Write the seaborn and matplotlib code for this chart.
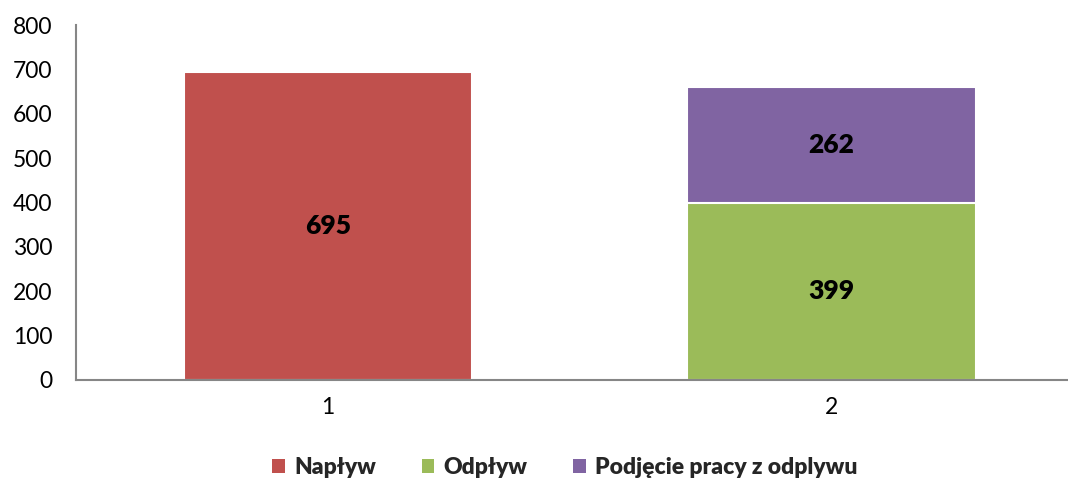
import pandas as pd
import matplotlib.pyplot as plt
import seaborn as sns
from matplotlib.patches import Patch

categories = ['1', '2']
naplyw = [695, 0]
odplyw = [0, 399]
podjecie = [0, 262]
series_names = ['Napływ', 'Odpływ', 'Podjęcie pracy z odplywu']
colors = ['#C0504D', '#9BBB59', '#8064A2']

sns.set_style('white')
plt.rcParams['font.family'] = ['Lato', 'DejaVu Sans']

fig = plt.figure(figsize=(10.68, 4.83), dpi=100)
ax = fig.add_axes([76 / 1068, 103 / 483, (1068 - 76) / 1068, 355 / 483])

df = pd.DataFrame({'cat': categories, 'naplyw': naplyw, 'odplyw': odplyw, 'podjecie': podjecie})
df['top'] = df['odplyw'] + df['podjecie']

bw = 0.573
kw = dict(order=categories, width=bw, edgecolor='white', linewidth=1.5, saturation=1, ax=ax)
# stacked: draw the cumulative total first, then the lower layer on top
sns.barplot(data=df[df['top'] > 0], x='cat', y='top', color=colors[2], **kw)
sns.barplot(data=df[df['odplyw'] > 0], x='cat', y='odplyw', color=colors[1], **kw)
sns.barplot(data=df[df['naplyw'] > 0], x='cat', y='naplyw', color=colors[0], **kw)

# value labels in the middle of each segment
lab = dict(ha='center', va='center', fontsize=19, fontweight='heavy', color='black')
for i, c in enumerate(categories):
    if naplyw[i]:
        ax.text(i, naplyw[i] / 2, str(naplyw[i]), **lab)
    if odplyw[i]:
        ax.text(i, odplyw[i] / 2, str(odplyw[i]), **lab)
    if podjecie[i]:
        ax.text(i, odplyw[i] + podjecie[i] / 2, str(podjecie[i]), **lab)

ax.set_ylim(0, 800)
ax.set_yticks(range(0, 801, 100))
ax.set_xlim(-0.5, 1.47)
ax.set_xlabel('')
ax.set_ylabel('')
ax.tick_params(axis='both', length=0, labelsize=16.5, colors='black')
ax.tick_params(axis='y', pad=17)
ax.tick_params(axis='x', pad=12)
for s in ['top', 'right']:
    ax.spines[s].set_visible(False)
for s in ['left', 'bottom']:
    ax.spines[s].set_color('#868686')
    ax.spines[s].set_linewidth(1.5)

handles = [Patch(facecolor=c, edgecolor='none') for c in colors]
fig.legend(handles, series_names, loc='center', bbox_to_anchor=(565 / 1068, 1 - 468 / 483),
           ncol=3, frameon=False, prop={'weight': 'heavy', 'size': 16.5},
           handlelength=0.55, handleheight=0.55, handletextpad=0.4, columnspacing=2.0)

fig.savefig('out.png', dpi=100)
